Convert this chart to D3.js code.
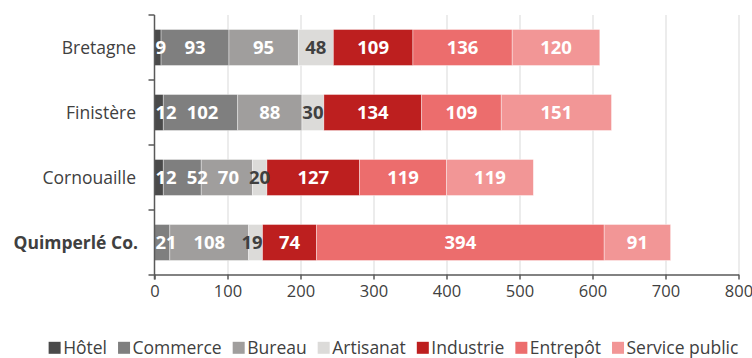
<!DOCTYPE html>
<html>
<head>
<meta charset="utf-8">
<script src="https://cdn.jsdelivr.net/npm/d3@7"></script>
<style>
  html, body { margin: 0; padding: 0; background: #fff; }
  svg { display: block; font-family: "Open Sans", "Noto Sans", sans-serif; }
</style>
</head>
<body>
<svg id="chart" width="752" height="358"></svg>
<script>
// Territoires (lignes du graphique)
const territoires = ["Bretagne", "Finistère", "Cornouaille", "Quimperlé Co."];
const territoireEnGras = "Quimperlé Co.";

// Types de locaux (séries empilées)
const types = ["Hôtel", "Commerce", "Bureau", "Artisanat", "Industrie", "Entrepôt", "Service public"];
const couleurs = ["#4a4a4a", "#7f7f7f", "#a09e9d", "#dcdbd9", "#bd1f1f", "#ec6d6d", "#f29696"];
const couleursTexte = ["#fff", "#fff", "#fff", "#404040", "#fff", "#fff", "#fff"];

// Valeurs par type, dans l'ordre des territoires
const hotel         = [9, 12, 12, 0];
const commerce      = [93, 102, 52, 21];
const bureau        = [95, 88, 70, 108];
const artisanat     = [48, 30, 20, 19];
const industrie     = [109, 134, 127, 74];
const entrepot      = [136, 109, 119, 394];
const servicePublic = [120, 151, 119, 91];

const graduations = [0, 100, 200, 300, 400, 500, 600, 700, 800];

const series = [hotel, commerce, bureau, artisanat, industrie, entrepot, servicePublic];

function draw() {
  // Table pour d3.stack
  const table = territoires.map((t, i) => {
    const row = { territoire: t };
    types.forEach((k, j) => { row[k] = series[j][i]; });
    return row;
  });
  const stacked = d3.stack().keys(types)(table);

  const svg = d3.select("#chart");

  const x = d3.scaleLinear().domain([0, 800]).range([154.5, 738.5]);
  const y = d3.scaleBand().domain(territoires).range([15, 275])
    .paddingInner(0.446).paddingOuter(0.223);

  // Quadrillage vertical
  svg.append("g")
    .selectAll("line")
    .data(graduations.filter(d => d > 0))
    .join("line")
    .attr("x1", d => x(d) + 0.5).attr("x2", d => x(d) + 0.5)
    .attr("y1", 15).attr("y2", 274)
    .attr("stroke", "#d9d9d9").attr("stroke-width", 1);

  // Barres empilées
  const groups = svg.append("g")
    .selectAll("g")
    .data(stacked)
    .join("g")
    .attr("fill", (d, i) => couleurs[i]);

  groups.selectAll("rect")
    .data(d => d)
    .join("rect")
    .attr("x", d => x(d[0]))
    .attr("width", d => Math.max(0, x(d[1]) - x(d[0])))
    .attr("y", d => y(d.data.territoire))
    .attr("height", y.bandwidth())
    .attr("stroke", "rgba(255,255,255,0.55)")
    .attr("stroke-width", 0.7);

  // Axe horizontal
  const xAxis = svg.append("g")
    .attr("transform", "translate(0,274.5)")
    .call(d3.axisBottom(x).tickValues(graduations).tickSize(5).tickSizeOuter(0).tickPadding(6));
  xAxis.select(".domain").attr("stroke", "#595959").attr("stroke-width", 1.5);
  xAxis.selectAll(".tick line").attr("stroke", "#595959").attr("stroke-width", 1.5);
  xAxis.selectAll(".tick text")
    .attr("fill", "#404040")
    .style("font-family", "\"Open Sans\", sans-serif")
    .style("font-size", "16.5px");

  // Axe vertical : trait et graduations aux limites des catégories
  const yAxis = svg.append("g");
  const y0 = y.range()[0];
  const limites = d3.range(territoires.length + 1).map(i => y0 + i * y.step());
  yAxis.append("line")
    .attr("x1", x(0)).attr("x2", x(0))
    .attr("y1", y0).attr("y2", 279.5)
    .attr("stroke", "#595959").attr("stroke-width", 1.5);
  yAxis.selectAll("line.tk")
    .data(limites)
    .join("line")
    .attr("class", "tk")
    .attr("x1", x(0) - 6).attr("x2", x(0))
    .attr("y1", d => d).attr("y2", d => d)
    .attr("stroke", "#595959").attr("stroke-width", 1.5);

  // Libellés des territoires
  svg.append("g")
    .selectAll("text")
    .data(territoires)
    .join("text")
    .attr("x", d => d === territoireEnGras ? 138 : 136)
    .attr("y", d => y(d) + y.bandwidth() / 2)
    .attr("dy", "0.36em")
    .attr("text-anchor", "end")
    .attr("fill", "#404040")
    .style("font-size", "17.5px")
    .style("font-weight", d => d === territoireEnGras ? 700 : 400)
    .text(d => d);

  // Étiquettes de valeurs, décalées pour éviter les chevauchements
  const etiquettes = svg.append("g");
  territoires.forEach((t, i) => {
    let prevRight = -Infinity;
    const barStart = x(0);
    stacked.forEach((s, j) => {
      const seg = s[i];
      const v = seg[1] - seg[0];
      if (v <= 0) return;
      const txt = etiquettes.append("text")
        .attr("y", y(t) + y.bandwidth() / 2)
        .attr("dy", "0.36em")
        .attr("text-anchor", "middle")
        .attr("fill", couleursTexte[j])
        .style("font-size", "18.5px")
        .style("font-weight", 700)
        .text(v);
      const w = txt.node().getBBox().width;
      let cx = (x(seg[0]) + x(seg[1])) / 2;
      const segEnd = x(seg[1]);
      if (couleursTexte[j] !== "#fff" && cx + w / 2 > segEnd) cx = segEnd - w / 2;
      const minLeft = Math.max(barStart + 1, prevRight + 10);
      if (cx - w / 2 < minLeft) cx = minLeft + w / 2;
      txt.attr("x", cx);
      prevRight = cx + w / 2;
    });
  });

  // Légende centrée sous le graphique
  const legende = svg.append("g");
  let lx = 0;
  types.forEach((k, j) => {
    const item = legende.append("g").attr("transform", `translate(${lx},0)`);
    item.append("rect")
      .attr("x", 0).attr("y", 341.8)
      .attr("width", 12).attr("height", 12)
      .attr("fill", couleurs[j]);
    const t = item.append("text")
      .attr("x", 14.5).attr("y", 353.6)
      .attr("fill", "#404040")
      .style("font-size", "17.5px")
      .text(k);
    lx += 14.5 + t.node().getBBox().width + 11;
  });
  const largeur = lx - 11;
  legende.attr("transform", `translate(${393.5 - largeur / 2},0)`);
}

// Attendre le chargement des polices avant de mesurer les textes
Promise.all([
  document.fonts.load('400 17px "Open Sans"'),
  document.fonts.load('700 18px "Open Sans"')
]).catch(() => {}).then(() => document.fonts.ready).then(draw);
</script>
</body>
</html>
